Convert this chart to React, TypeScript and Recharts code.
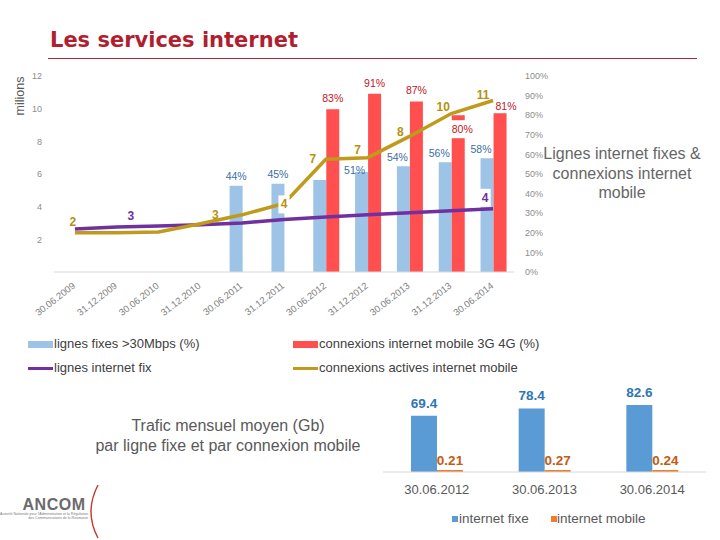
import React from "react";
import {
  ComposedChart,
  BarChart,
  Bar,
  Line,
  XAxis,
  YAxis,
  LabelList,
} from "recharts";

// top chart: half-year points
const periods = [
  "30.06.2009",
  "31.12.2009",
  "30.06.2010",
  "31.12.2010",
  "30.06.2011",
  "31.12.2011",
  "30.06.2012",
  "31.12.2012",
  "30.06.2013",
  "31.12.2013",
  "30.06.2014",
];
const fixedLines = [2.64, 2.75, 2.82, 2.9, 3.0, 3.22, 3.37, 3.5, 3.62, 3.75, 3.87];
const mobileConnections = [2.4, 2.4, 2.45, 2.95, 3.5, 4.2, 6.9, 7.0, 8.3, 9.7, 10.5];
const fastFixedShare = [null, null, null, null, 44, 45, 47, 51, 54, 56, 58];
const mobileBroadbandShare = [null, null, null, null, null, null, 83, 91, 87, 80, 81];
const leftTicks = [2, 4, 6, 8, 10, 12];
const rightTicks = [0, 10, 20, 30, 40, 50, 60, 70, 80, 90, 100];

// which data labels are visible on the slide
const fastFixedLabelled = [4, 5, 7, 8, 9, 10];
const mobileShareLabelled = [6, 7, 8, 9, 10];
const fixedLinesLabelled = [1, 10];
const mobileConnLabelled = [0, 3, 5, 6, 7, 8, 9, 10];

// bottom chart: monthly traffic
const trafficPeriods = ["30.06.2012", "30.06.2013", "30.06.2014"];
const trafficFixed = [69.4, 78.4, 82.6];
const trafficMobile = [0.21, 0.27, 0.24];

const BLUE = "#9dc3e6";
const RED = "#ff4f4f";
const GOLD = "#c09a1b";
const PURPLE = "#7030a0";

const topData = periods.map((period, i) => ({
  period,
  fixed: fixedLines[i],
  mobile: mobileConnections[i],
  fast: fastFixedShare[i],
  mobileShare: mobileBroadbandShare[i],
}));

const trafficData = trafficPeriods.map((period, i) => ({
  period,
  fixe: trafficFixed[i],
  mobile: trafficMobile[i],
}));

type Nudge = Record<number, [number, number, boolean]>;

// label placement tweaks (dx, dy, white box) as Excel put them
const goldNudge: Nudge = {
  0: [-2, -11, false],
  3: [15, -9, false],
  5: [0, 1, true],
  6: [-13, 0, false],
  7: [-10, -8, false],
  8: [-9, -4, false],
  9: [-8, -7, false],
  10: [-10, -6, false],
};
const purpleNudge: Nudge = {
  1: [14, -11, false],
  10: [-8, -11, true],
};
const blueNudge: Nudge = {
  4: [0, -10, false],
  5: [0, -10, false],
  7: [-7, -2, false],
};
const redNudge: Nudge = {
  9: [4, 14, true],
  10: [6, -7, false],
};

function makeLabel(
  color: string,
  shown: number[],
  nudge: Nudge,
  def: [number, number, boolean],
  opts: {
    size: number;
    bold?: boolean;
    series?: (number | null)[];
    fmt: (v: number) => string;
  }
) {
  return (props: any) => {
    const { x, y, width, value } = props;
    if (value == null) return null;
    // bar labels only count the drawn bars, so find the point by its value
    const index = opts.series ? opts.series.indexOf(Number(value)) : props.index;
    if (!shown.includes(index)) return null;
    const [dx, dy, boxed] = nudge[index] ?? def;
    const cx = (opts.series ? x + width / 2 : x) + dx;
    const cy = y + dy;
    const text = opts.fmt(Number(value));
    const w = text.length * opts.size * 0.6 + 4;
    return (
      <g>
        {boxed && (
          <rect x={cx - w / 2} y={cy - 9} width={w} height={18} fill="#fff" />
        )}
        <text
          x={cx}
          y={cy}
          textAnchor="middle"
          dominantBaseline="central"
          fill={color}
          fontSize={opts.size}
          fontWeight={opts.bold ? "bold" : "normal"}
        >
          {text}
        </text>
      </g>
    );
  };
}

const DateTick = (props: any) => {
  const { x, y, payload } = props;
  return (
    <g transform={`translate(${x + 1},${y + 15})`}>
      <text textAnchor="end" transform="rotate(-38)" fontSize={9.5} fill="#7f7f7f">
        {payload.value}
      </text>
    </g>
  );
};

const legendText: React.CSSProperties = {
  position: "absolute",
  fontSize: 13,
  lineHeight: "16px",
  color: "#404040",
  whiteSpace: "nowrap",
};

export default function App() {
  return (
    <div
      style={{
        position: "absolute",
        left: 0,
        top: 0,
        width: 720,
        height: 540,
        background: "#fff",
        fontFamily: "'Liberation Sans', Arial, sans-serif",
        overflow: "hidden",
      }}
    >
      <svg width={720} height={540} style={{ position: "absolute", left: 0, top: 0 }}>
        <line x1={48} x2={697} y1={58.5} y2={58.5} stroke="#a3283a" strokeWidth={1} />
        <text
          transform="translate(24,96) rotate(-90)"
          textAnchor="middle"
          fontSize={12.5}
          fill="#595959"
        >
          milions
        </text>
        {/* logo */}
        <text x={54} y={510} textAnchor="middle" fontSize={16} fontWeight="bold" fill="#6b6b6b" letterSpacing={0.5}>
          ANCOM
        </text>
        <text x={88} y={514.5} textAnchor="end" fontSize={3.6} fill="#7a7a7a">
          Autorité Nationale pour l'Administration et la Régulation
        </text>
        <text x={88} y={518.5} textAnchor="end" fontSize={3.6} fill="#7a7a7a">
          des Communications de la Roumanie
        </text>
        <path d="M 98 485 Q 84 512 98 538" fill="none" stroke="#c0392b" strokeWidth={1.4} />
      </svg>

      <div
        style={{
          position: "absolute",
          left: 50,
          top: 28,
          fontFamily: "'DejaVu Sans', Verdana, sans-serif",
          fontWeight: "bold",
          fontSize: 21,
          lineHeight: "24px",
          color: "#b01f30",
          whiteSpace: "nowrap",
        }}
      >
        Les services internet
      </div>

      <div style={{ position: "absolute", left: 0, top: 0 }}>
        <ComposedChart
          width={720}
          height={330}
          data={topData}
          margin={{ top: 76, right: 166, bottom: 8, left: 0 }}
          barCategoryGap="20%"
          barGap={0}
        >
          <XAxis
            dataKey="period"
            interval={0}
            tickLine={false}
            tickSize={0}
            tickMargin={0}
            height={50}
            axisLine={{ stroke: "#d9d9d9" }}
            tick={<DateTick />}
          />
          <YAxis
            yAxisId="left"
            domain={[0, 12]}
            ticks={leftTicks}
            width={54}
            axisLine={false}
            tickLine={false}
            tickSize={0}
            tickMargin={12}
            tick={{ fontSize: 9, fill: "#8c8c8c" }}
          />
          <YAxis
            yAxisId="right"
            orientation="right"
            domain={[0, 100]}
            ticks={rightTicks}
            width={40}
            axisLine={false}
            tickLine={false}
            tickSize={0}
            tickMargin={11}
            tick={{ fontSize: 9, fill: "#8c8c8c", textAnchor: "start" }}
            tickFormatter={(v) => `${v}%`}
          />
          <Bar yAxisId="right" dataKey="fast" fill={BLUE} isAnimationActive={false}>
            <LabelList
              dataKey="fast"
              content={makeLabel("#3c6ea5", fastFixedLabelled, blueNudge, [-6, -9, false], {
                size: 10.5,
                series: fastFixedShare,
                fmt: (v) => `${v}%`,
              })}
            />
          </Bar>
          <Bar yAxisId="right" dataKey="mobileShare" fill={RED} isAnimationActive={false}>
            <LabelList
              dataKey="mobileShare"
              content={makeLabel("#c0161f", mobileShareLabelled, redNudge, [0, -11, false], {
                size: 10.5,
                series: mobileBroadbandShare,
                fmt: (v) => `${v}%`,
              })}
            />
          </Bar>
          <Line
            yAxisId="left"
            dataKey="fixed"
            stroke={PURPLE}
            strokeWidth={3.5}
            dot={false}
            isAnimationActive={false}
          >
            <LabelList
              dataKey="fixed"
              content={makeLabel(PURPLE, fixedLinesLabelled, purpleNudge, [-8, -10, false], {
                size: 12,
                bold: true,
                fmt: (v) => String(Math.round(v)),
              })}
            />
          </Line>
          <Line
            yAxisId="left"
            dataKey="mobile"
            stroke={GOLD}
            strokeWidth={3.5}
            dot={false}
            isAnimationActive={false}
          >
            <LabelList
              dataKey="mobile"
              content={makeLabel("#b8900f", mobileConnLabelled, goldNudge, [-10, -6, false], {
                size: 12,
                bold: true,
                fmt: (v) => String(Math.round(v)),
              })}
            />
          </Line>
        </ComposedChart>
      </div>

      <div
        style={{
          position: "absolute",
          left: 522,
          top: 144,
          width: 200,
          textAlign: "center",
          fontSize: 16,
          lineHeight: "19.5px",
          color: "#666",
        }}
      >
        Lignes internet fixes &amp;
        <br />
        connexions internet
        <br />
        mobile
      </div>

      {/* legend of the top chart */}
      <div style={{ position: "absolute", left: 28, top: 341, width: 25, height: 7, background: BLUE }} />
      <div style={{ ...legendText, left: 54, top: 336 }}>lignes fixes &gt;30Mbps (%)</div>
      <div style={{ position: "absolute", left: 293, top: 341, width: 25, height: 7, background: RED }} />
      <div style={{ ...legendText, left: 319, top: 336 }}>connexions internet mobile 3G 4G (%)</div>
      <div style={{ position: "absolute", left: 28, top: 367, width: 25, height: 3, background: PURPLE }} />
      <div style={{ ...legendText, left: 54, top: 360 }}>lignes internet fix</div>
      <div style={{ position: "absolute", left: 293, top: 367, width: 25, height: 3, background: GOLD }} />
      <div style={{ ...legendText, left: 319, top: 360 }}>connexions actives internet mobile</div>

      <div
        style={{
          position: "absolute",
          left: 78,
          top: 415.5,
          width: 300,
          textAlign: "center",
          fontSize: 16,
          lineHeight: "20px",
          color: "#595959",
        }}
      >
        Trafic mensuel moyen (Gb)
        <br />
        par ligne fixe et par connexion mobile
      </div>

      <div style={{ position: "absolute", left: 383, top: 371 }}>
        <BarChart
          width={323}
          height={130}
          data={trafficData}
          margin={{ top: 20, right: 0, bottom: 0, left: 0 }}
          barGap={0}
        >
          <XAxis
            dataKey="period"
            height={29}
            tickLine={false}
            tickSize={0}
            tickMargin={13}
            axisLine={{ stroke: "#d9d9d9" }}
            tick={{ fontSize: 13, fill: "#595959" }}
          />
          <YAxis hide domain={[0, 100]} />
          <Bar dataKey="fixe" fill="#5b9bd5" barSize={26} isAnimationActive={false}>
            <LabelList
              dataKey="fixe"
              position="top"
              offset={8}
              fill="#2e75b6"
              fontSize={13.5}
              fontWeight="bold"
            />
          </Bar>
          <Bar
            dataKey="mobile"
            fill="#ed7d31"
            barSize={26}
            minPointSize={2}
            isAnimationActive={false}
          >
            <LabelList
              dataKey="mobile"
              position="top"
              offset={5}
              fill="#c55a11"
              fontSize={13.5}
              fontWeight="bold"
            />
          </Bar>
        </BarChart>
      </div>

      {/* legend of the traffic chart */}
      <div style={{ position: "absolute", left: 452, top: 516, width: 6, height: 6, background: "#5b9bd5" }} />
      <div style={{ ...legendText, fontSize: 13.5, color: "#595959", left: 459, top: 511 }}>internet fixe</div>
      <div style={{ position: "absolute", left: 551, top: 516, width: 6, height: 6, background: "#ed7d31" }} />
      <div style={{ ...legendText, fontSize: 13.5, color: "#595959", left: 557, top: 511 }}>internet mobile</div>
    </div>
  );
}
